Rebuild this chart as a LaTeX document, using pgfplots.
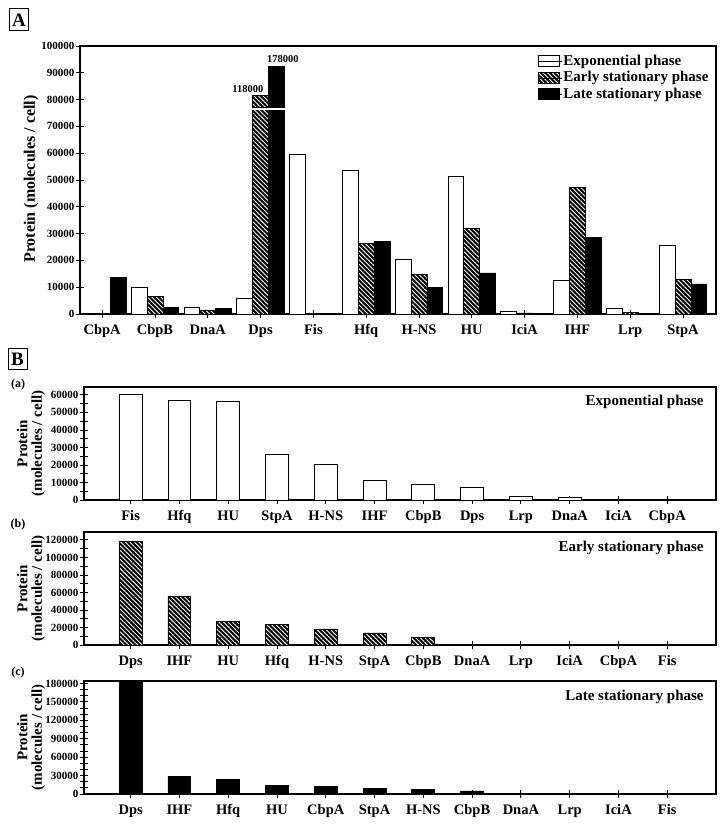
\documentclass[border=0pt]{standalone}
\usepackage{fontspec}
\setmainfont{Liberation Serif}
\usepackage{pgfplots}
\pgfplotsset{compat=1.18}
\usetikzlibrary{patterns.meta}

\newcommand{\fs}[1]{\fontsize{#1}{#1}\selectfont\bfseries}

\pgfplotsset{
  panel/.style={
    scale only axis, anchor=south west,
    ymin=0, clip=false,
    axis line style={line width=1.1pt},
    tick align=center, tick pos=left,
    major tick length=8pt, minor tick length=8pt,
    every tick/.style={black, line width=0.8pt},
    xticklabel style={font=\fs{14.5}, yshift=-3pt},
    yticklabel style={font=\fs{11}, xshift=2pt},
    /pgf/number format/fixed,
    /pgf/number format/precision=0,
    /pgf/number format/assume math mode=true,
    /pgf/number format/1000 sep={},
    scaled y ticks=false,
    xtick={0,...,11},
  },
  expbar/.style={ybar, fill=white, draw=black, line width=0.8pt},
  earlybar/.style={ybar, fill=black, draw=black, line width=0.8pt,
    postaction={pattern={Lines[angle=-45,distance=3.2pt,line width=0.9pt]}, pattern color=white}},
  latebar/.style={ybar, fill=black, draw=black, line width=0.8pt},
  boxlegend/.style={legend image code/.code={\draw[##1] (0pt,-5pt) rectangle (21pt,6pt);
    \path (0pt,0pt) -- (24pt,0pt);}},
  panelB/.style={panel, width=632pt, height=113pt, xmin=-0.956, xmax=12.0, bar width=0.47},
}

\begin{document}
\begin{tikzpicture}
\useasboundingbox (0,0) rectangle (724pt,824pt);

% panel A: all three phases side by side (zero values left out)
\begin{axis}[panel, at={(80pt,510pt)}, width=636pt, height=268pt,
  xmin=-0.42, xmax=11.625, ymax=100000, ytick={0,10000,...,100000},
  bar width=0.3,
  xticklabels={CbpA,CbpB,DnaA,Dps,Fis,Hfq,H-NS,HU,IciA,IHF,Lrp,StpA},
  legend style={at={(rel axis cs:0.99,0.974)}, anchor=north east, draw=none, fill=none,
    font=\fs{15}, row sep=0pt, inner sep=0pt,
    nodes={inner sep=1pt, text height=11pt, text depth=3.5pt}},
  legend cell align=left]
\addplot[expbar, boxlegend, bar shift=-0.3] coordinates
  {(1,10000)(2,2400)(3,6000)(4,59700)(5,53400)(6,20300)(7,51400)(8,1000)(9,12400)(10,2200)(11,25700)};
\addplot[earlybar, boxlegend, bar shift=0] coordinates
  {(1,6500)(2,1500)(3,81500)(5,26400)(6,14700)(7,32000)(8,400)(9,47100)(10,700)(11,12800)};
\addplot[latebar, boxlegend, bar shift=0.3] coordinates
  {(0,13700)(1,2500)(2,2000)(3,92500)(5,27200)(6,10000)(7,15300)(9,28400)(11,11200)};
\legend{Exponential phase, Early stationary phase, Late stationary phase}
% axis break on the Dps bars
\draw[black, line width=3pt] (axis cs:2.85,76500) -- (axis cs:3.45,76500);
\draw[white, line width=1.5pt] (axis cs:2.83,76500) -- (axis cs:3.48,76500);
\node[font=\fs{10.5}] at (axis cs:2.76,84000) {118000};
\node[font=\fs{10.5}] at (axis cs:3.42,95300) {178000};
\end{axis}

% panel B(a)
\begin{axis}[panelB, at={(84pt,324pt)}, ymax=64500,
  ytick={0,10000,...,60000}, minor y tick num=1,
  xticklabels={Fis,Hfq,HU,StpA,H-NS,IHF,CbpB,Dps,Lrp,DnaA,IciA,CbpA}]
\addplot[expbar, bar shift=0] coordinates
  {(0,60200)(1,57100)(2,56400)(3,26300)(4,20200)(5,11000)(6,9100)(7,7200)(8,2300)(9,1700)(10,400)};
\node[anchor=east, font=\fs{15}] at (rel axis cs:0.986,0.865) {Exponential phase};
\end{axis}

% panel B(b)
\begin{axis}[panelB, at={(84pt,179pt)}, ymax=129000,
  ytick={0,20000,...,120000}, minor y tick num=1,
  xticklabels={Dps,IHF,HU,Hfq,H-NS,StpA,CbpB,DnaA,Lrp,IciA,CbpA,Fis}]
\addplot[earlybar, bar shift=0] coordinates
  {(0,118000)(1,55200)(2,27100)(3,23600)(4,18300)(5,13700)(6,8400)(7,1100)(8,400)(9,200)};
\node[anchor=east, font=\fs{15}] at (rel axis cs:0.986,0.86) {Early stationary phase};
\end{axis}

% panel B(c)
\begin{axis}[panelB, at={(84pt,30pt)}, ymax=184000,
  ytick={0,30000,...,180000}, minor y tick num=2,
  xticklabels={Dps,IHF,Hfq,HU,CbpA,StpA,H-NS,CbpB,DnaA,Lrp,IciA,Fis}]
\addplot[latebar, bar shift=0] coordinates
  {(0,181000)(1,28600)(2,23800)(3,14600)(4,13000)(5,8600)(6,7000)(7,4900)(8,1500)(9,500)};
\node[anchor=east, font=\fs{15}] at (rel axis cs:0.986,0.86) {Late stationary phase};
\end{axis}

% panel letters and y labels
\node[draw, line width=1pt, minimum width=19pt, minimum height=22pt, inner sep=0pt, font=\fs{19}] at (19pt,804pt) {A};
\node[draw, line width=1pt, minimum width=19pt, minimum height=21pt, inner sep=0pt, font=\fs{19}] at (17.5pt,464.5pt) {B};
\node[font=\fs{12}] at (18pt,439pt) {(a)};
\node[font=\fs{12}] at (18pt,299pt) {(b)};
\node[font=\fs{12}] at (18pt,151pt) {(c)};
\node[rotate=90, font=\fs{16}] at (31pt,645pt) {Protein (molecules / cell)};
\node[rotate=90, align=center, font=\fontsize{15}{14.5}\selectfont\bfseries] at (31pt,380.5pt) {Protein\\(molecules / cell)};
\node[rotate=90, align=center, font=\fontsize{15}{14.5}\selectfont\bfseries] at (31pt,235.5pt) {Protein\\(molecules / cell)};
\node[rotate=90, align=center, font=\fontsize{15}{14.5}\selectfont\bfseries] at (31pt,86.7pt) {Protein\\(molecules / cell)};
\end{tikzpicture}
\end{document}
